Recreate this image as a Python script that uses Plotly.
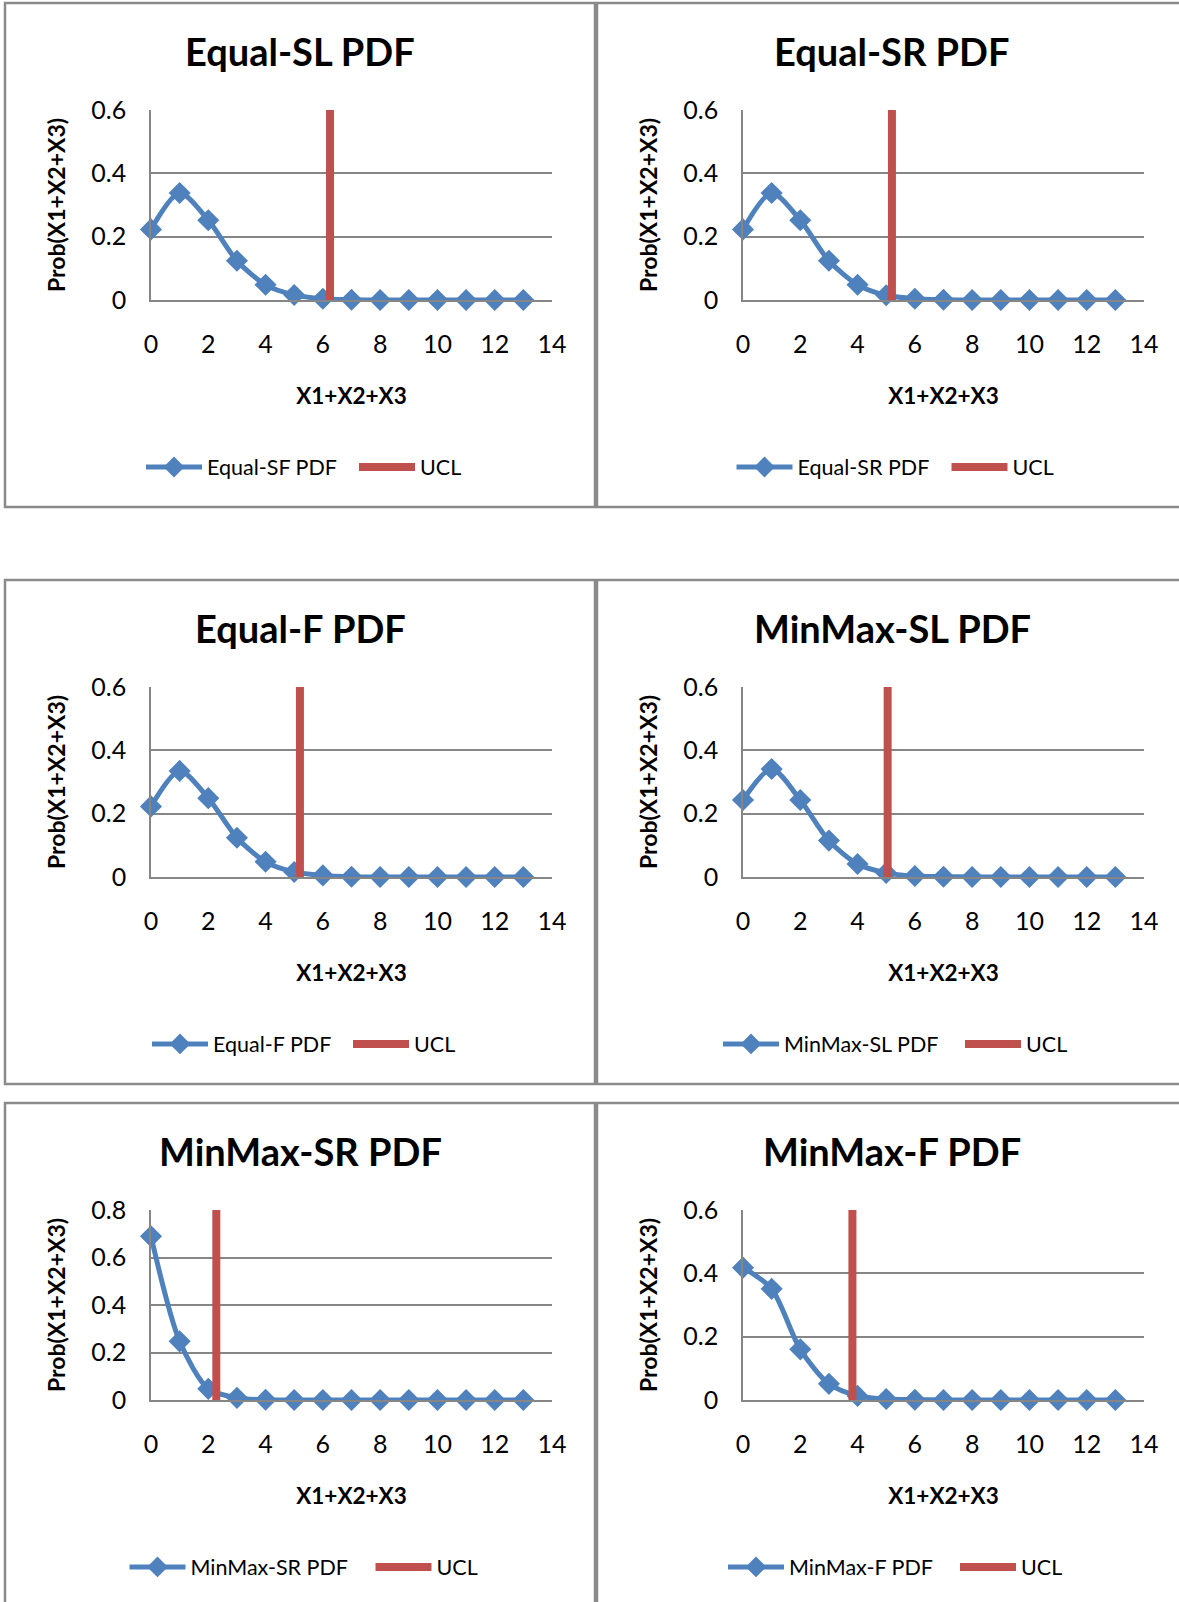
import plotly.graph_objects as go

# ---------------- data ----------------
x_vals = list(range(0, 14))

chart_titles = ["Equal-SL PDF", "Equal-SR PDF", "Equal-F PDF",
                "MinMax-SL PDF", "MinMax-SR PDF", "MinMax-F PDF"]
series_names = ["Equal-SF PDF", "Equal-SR PDF", "Equal-F PDF",
                "MinMax-SL PDF", "MinMax-SR PDF", "MinMax-F PDF"]

equal_sl = [0.223, 0.338, 0.252, 0.124, 0.048, 0.016, 0.004, 0.001, 0, 0, 0, 0, 0, 0]
equal_sr = [0.223, 0.338, 0.252, 0.124, 0.048, 0.015, 0.004, 0.001, 0, 0, 0, 0, 0, 0]
equal_f = [0.223, 0.335, 0.249, 0.124, 0.048, 0.016, 0.005, 0.001, 0, 0, 0, 0, 0, 0]
minmax_sl = [0.243, 0.341, 0.243, 0.115, 0.041, 0.013, 0.003, 0.001, 0, 0, 0, 0, 0, 0]
minmax_sr = [0.689, 0.247, 0.047, 0.009, 0.001, 0, 0, 0, 0, 0, 0, 0, 0, 0]
minmax_f = [0.418, 0.351, 0.160, 0.051, 0.013, 0.003, 0.001, 0, 0, 0, 0, 0, 0, 0]

ucl_x = [6.25, 5.2, 5.2, 5.05, 2.28, 3.82]
y_max = [0.6, 0.6, 0.6, 0.6, 0.8, 0.6]
y_ticks_06 = [0, 0.2, 0.4, 0.6]
y_ticks_08 = [0, 0.2, 0.4, 0.6, 0.8]

series = [equal_sl, equal_sr, equal_f, minmax_sl, minmax_sr, minmax_f]

# ---------------- styling / layout ----------------
W, H = 1179, 1602
FONT = "Lato"
BLUE = "#4F81BD"
RED = "#C0504D"
GRID = "#868686"
BORDER = "#8a8a8a"

panel_lefts = [5, 597]
panel_tops = [3, 580, 1103]
PANEL_W, PANEL_H = 590, 504

# legend placement (left edge, px) and per-entry spacing, per panel
legend_left_px = [141, 731.5, 147, 718, 124.5, 723]
legend_entry_w = [142, 144, 130, 171, 175, 161]

fig = go.Figure()
layout = dict(
    width=W, height=H,
    margin=dict(l=0, r=0, t=0, b=0, pad=0, autoexpand=False),
    paper_bgcolor="white", plot_bgcolor="white",
    font=dict(family=FONT, color="black"),
    annotations=[], shapes=[],
)

for i in range(6):
    r, c = divmod(i, 2)
    pl = panel_lefts[c]
    pt = panel_tops[r]
    ax = "" if i == 0 else str(i + 1)
    leg = "legend" if i == 0 else f"legend{i + 1}"

    x0 = (pl + 146) / W
    x1 = (pl + 547) / W
    y_top = 1 - (pt + 107) / H
    y_bot = 1 - (pt + 297) / H

    fig.add_trace(go.Scatter(
        x=x_vals, y=series[i], name=series_names[i],
        mode="lines+markers",
        line=dict(color=BLUE, width=5, shape="spline", smoothing=0.8),
        marker=dict(symbol="diamond", size=17, color=BLUE),
        cliponaxis=False,
        xaxis="x" + ax, yaxis="y" + ax, legend=leg,
    ))
    fig.add_trace(go.Scatter(
        x=[ucl_x[i], ucl_x[i]], y=[0, y_max[i]], name="UCL",
        mode="lines",
        line=dict(color=RED, width=8),
        cliponaxis=False,
        xaxis="x" + ax, yaxis="y" + ax, legend=leg,
    ))

    layout["xaxis" + ax] = dict(
        domain=[x0, x1], anchor="y" + ax,
        range=[0, 14], tick0=0, dtick=2,
        showgrid=False, zeroline=False,
        showline=True, linecolor=GRID, linewidth=1.5,
        ticks="", ticklabelstandoff=21,
        tickfont=dict(family=FONT, size=25, color="black"),
        title=dict(text="<b>X1+X2+X3</b>", standoff=31,
                   font=dict(family=FONT, size=22.5, color="black")),
        fixedrange=True,
    )
    layout["yaxis" + ax] = dict(
        domain=[y_bot, y_top], anchor="x" + ax,
        range=[0, y_max[i]],
        tickvals=y_ticks_08 if y_max[i] > 0.7 else y_ticks_06,
        showgrid=True, gridcolor=GRID, gridwidth=1.5,
        zeroline=False,
        showline=True, linecolor=GRID, linewidth=1.5,
        ticks="", ticklabelstandoff=18,
        tickfont=dict(family=FONT, size=25, color="black"),
        title=dict(text="<b>Prob(X1+X2+X3)</b>", standoff=19,
                   font=dict(family=FONT, size=23, color="black")),
        fixedrange=True,
    )

    layout[leg] = dict(
        orientation="h",
        x=legend_left_px[i] / W, xanchor="left",
        y=1 - (pt + 464) / H, yanchor="middle",
        font=dict(family=FONT, size=21.5, color="black"),
        bgcolor="rgba(0,0,0,0)",
        itemwidth=56,
        entrywidth=legend_entry_w[i], entrywidthmode="pixels",
        tracegroupgap=0,
    )

    layout["annotations"].append(dict(
        text="<b>" + chart_titles[i] + "</b>",
        x=(pl + 295) / W, y=1 - (pt + 48) / H,
        xref="paper", yref="paper",
        xanchor="center", yanchor="middle",
        showarrow=False,
        font=dict(family=FONT, size=38, color="black"),
    ))

    layout["shapes"].append(dict(
        type="rect", xref="paper", yref="paper",
        x0=pl / W, x1=(pl + PANEL_W) / W,
        y0=1 - (pt + PANEL_H) / H, y1=1 - pt / H,
        line=dict(color=BORDER, width=2.5),
        fillcolor="rgba(0,0,0,0)",
        layer="below",
    ))

fig.update_layout(**layout)
fig.write_html("out.html")
